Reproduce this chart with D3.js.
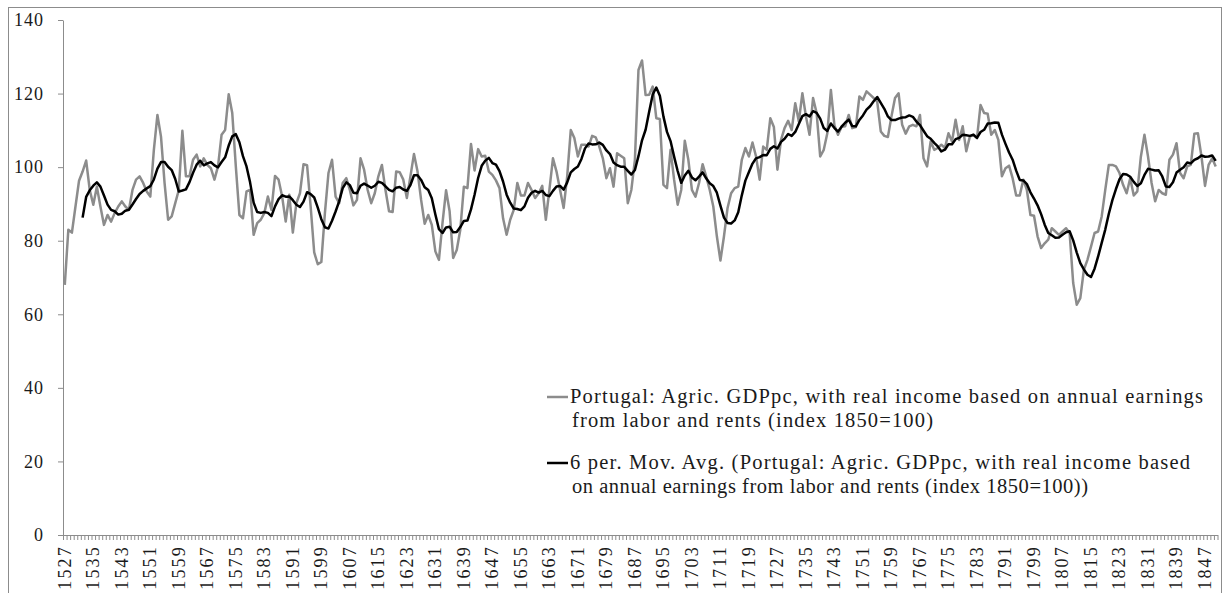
<!DOCTYPE html>
<html><head><meta charset="utf-8">
<script src="https://cdn.jsdelivr.net/npm/d3@7"></script>
<style>body{margin:0;background:#fff}svg{display:block}</style>
</head><body><svg id="c" width="1229" height="593"></svg>
<script>
// ---------- data ----------
const startYear = 1527;
const gdpValues = [
 68.0,83.0,82.2,89.3,96.3,98.8,101.8,93.8,89.8,94.7,
 89.3,84.3,87.0,85.2,87.5,89.3,90.7,89.3,88.4,93.8,
 96.6,97.5,95.7,93.4,92.0,104.7,114.2,108.3,95.7,85.7,
 86.6,90.2,93.8,109.9,97.5,97.5,102.0,103.4,100.2,102.4,
 100.6,99.7,96.6,100.2,108.8,110.1,119.8,114.7,100.2,87.0,
 86.1,93.4,93.8,81.6,84.8,85.7,87.5,92.0,88.4,97.6,
 96.6,92.0,85.2,92.5,82.2,90.2,92.9,100.8,100.5,89.3,
 76.8,73.6,74.2,87.5,98.4,102.0,92.0,90.2,95.7,97.0,
 93.8,89.6,91.1,102.4,99.3,93.8,90.2,92.9,97.5,100.6,
 93.8,88.0,87.8,98.8,98.6,96.6,91.6,97.5,103.6,98.8,
 91.1,84.6,87.0,84.3,77.1,74.8,84.8,93.7,88.0,75.3,
 77.5,83.0,94.7,94.3,106.3,99.1,104.9,102.9,103.1,98.8,
 97.9,96.4,94.3,86.1,81.6,85.7,88.4,95.7,92.3,92.3,
 95.7,93.8,91.6,92.9,94.9,85.7,93.8,102.4,98.8,93.8,
 88.9,97.5,110.1,107.9,102.9,106.1,106.1,105.6,108.5,108.1,
 105.6,102.4,97.0,99.7,94.7,103.8,103.1,102.4,90.2,93.8,
 102.0,126.4,129.0,119.6,119.7,121.9,113.3,113.1,95.2,94.3,
 104.7,96.6,89.8,93.8,107.2,102.0,93.8,92.0,95.7,100.8,
 97.5,93.8,89.3,81.2,74.6,81.2,88.9,92.9,94.3,94.7,
 102.0,105.2,102.9,106.7,102.9,96.6,105.6,104.7,113.3,110.9,
 99.3,107.4,110.6,112.6,110.1,117.4,112.4,120.1,113.8,108.8,
 118.8,114.7,102.9,104.7,109.2,121.0,111.3,108.8,111.0,111.1,
 114.2,110.6,110.9,119.2,118.3,120.6,119.7,118.8,117.8,109.7,
 108.5,108.2,113.8,118.8,120.1,111.5,109.1,111.1,111.5,111.1,
 114.2,102.4,100.2,107.0,104.7,105.2,106.1,105.2,109.2,107.0,
 112.9,107.4,111.1,104.3,108.3,108.8,107.9,116.9,114.7,114.5,
 108.8,110.1,107.4,97.5,99.7,100.4,97.0,92.3,92.3,96.6,
 93.8,87.0,86.8,81.2,78.0,79.3,80.3,83.4,82.5,81.6,
 82.5,83.4,82.1,68.5,62.6,64.4,72.1,74.8,78.4,82.1,
 82.5,86.6,93.8,100.6,100.6,100.2,98.4,95.2,92.9,97.0,
 92.3,93.4,102.9,108.8,102.9,95.7,90.7,93.8,92.9,92.5,
 102.0,103.4,106.5,98.4,97.0,100.2,100.6,109.1,109.2,102.9,
 94.9,100.6,102.4,100.2
];
const years = gdpValues.map((_, i) => String(startYear + i));
const xTickLabels = years.filter((_, i) => i % 8 === 0);
const yTickValues = [0, 20, 40, 60, 80, 100, 120, 140];
const maPeriod = 6;
const seriesNames = [
  ["Portugal: Agric. GDPpc, with real income based on annual earnings",
   "from labor and rents (index 1850=100)"],
  ["6 per. Mov. Avg. (Portugal: Agric. GDPpc, with real income based",
   "on annual earnings from labor and rents (index 1850=100))"]
];

// ---------- derived series (trailing moving average) ----------
const rawData = gdpValues.map((v, i) => ({year: years[i], v}));
const maData = rawData.slice(maPeriod - 1).map((d, k) => ({
  year: d.year,
  v: d3.mean(gdpValues.slice(k, k + maPeriod))
}));

// ---------- layout ----------
const svg = d3.select("#c");
const plot = {left: 63, right: 1217.5, top: 20, bottom: 535};
const FONT = "'Liberation Serif','Times New Roman',serif";
const AXIS_COLOR = "#8c8c8c";
const TEXT_COLOR = "#1a1a1a";

// chart border
svg.append("rect").attr("x", 8.5).attr("y", 7.5).attr("width", 1213).attr("height", 620)
  .attr("fill", "none").attr("stroke", "#8c8c8c").attr("stroke-width", 1);

const x = d3.scaleBand().domain(years).range([plot.left, plot.right]).padding(0);
const xc = d => x(d) + x.bandwidth() / 2;
const y = d3.scaleLinear().domain([0, 140]).range([plot.bottom, plot.top]);

// y axis
const yAxis = svg.append("g").attr("transform", `translate(${plot.left},0)`)
  .call(d3.axisLeft(y).tickValues(yTickValues).tickSize(5).tickSizeOuter(0).tickPadding(14));
yAxis.select(".domain").attr("stroke", AXIS_COLOR);
yAxis.selectAll(".tick line").attr("stroke", AXIS_COLOR);
yAxis.selectAll(".tick text").attr("fill", TEXT_COLOR)
  .style("font-family", FONT).style("font-size", "18px").style("letter-spacing", "1px");

// x axis: minor ticks on category boundaries
const xb = d3.scaleLinear().domain([0, years.length]).range([plot.left, plot.right]);
const xTicks = svg.append("g").attr("transform", `translate(0,${plot.bottom})`)
  .call(d3.axisBottom(xb).tickValues(d3.range(0, years.length + 1)).tickSize(5).tickSizeOuter(0).tickFormat(""));
xTicks.select(".domain").attr("stroke", AXIS_COLOR);
xTicks.selectAll(".tick line").attr("stroke", AXIS_COLOR);

// x axis labels every 8 years
const xLab = svg.append("g").attr("transform", `translate(0,${plot.bottom})`)
  .call(d3.axisBottom(x).tickValues(xTickLabels).tickSize(0).tickSizeOuter(0));
xLab.select(".domain").remove();
xLab.selectAll(".tick text")
  .attr("transform", "rotate(-90)")
  .attr("text-anchor", "end")
  .attr("x", -10).attr("y", 0).attr("dy", "0.33em")
  .attr("fill", TEXT_COLOR)
  .style("font-family", FONT).style("font-size", "18px").style("letter-spacing", "2.2px");

// lines
const line = d3.line().x(d => xc(d.year)).y(d => y(d.v));
svg.append("path").datum(rawData).attr("d", line)
  .attr("fill", "none").attr("stroke", "#8c8c8c").attr("stroke-width", 2.5)
  .attr("stroke-linejoin", "round");
svg.append("path").datum(maData).attr("d", line)
  .attr("fill", "none").attr("stroke", "#000").attr("stroke-width", 2.5)
  .attr("stroke-linejoin", "round");

// legend
const legend = svg.append("g");
const legendItems = [
  {color: "#8c8c8c", lines: seriesNames[0], y: 397, widths: [633, 361]},
  {color: "#000", lines: seriesNames[1], y: 463, widths: [620, 516]}
];
legendItems.forEach(it => {
  legend.append("line").attr("x1", 547).attr("x2", 568).attr("y1", it.y).attr("y2", it.y)
    .attr("stroke", it.color).attr("stroke-width", 2.5);
  it.lines.forEach((t, j) => {
    legend.append("text").attr("x", j === 0 ? 570 : 572).attr("y", it.y + 6 + j * 24)
      .attr("fill", TEXT_COLOR)
      .style("font-family", FONT).style("font-size", "20.5px")
      .attr("textLength", it.widths[j]).attr("lengthAdjust", "spacing")
      .text(t);
  });
});
</script></body></html>
